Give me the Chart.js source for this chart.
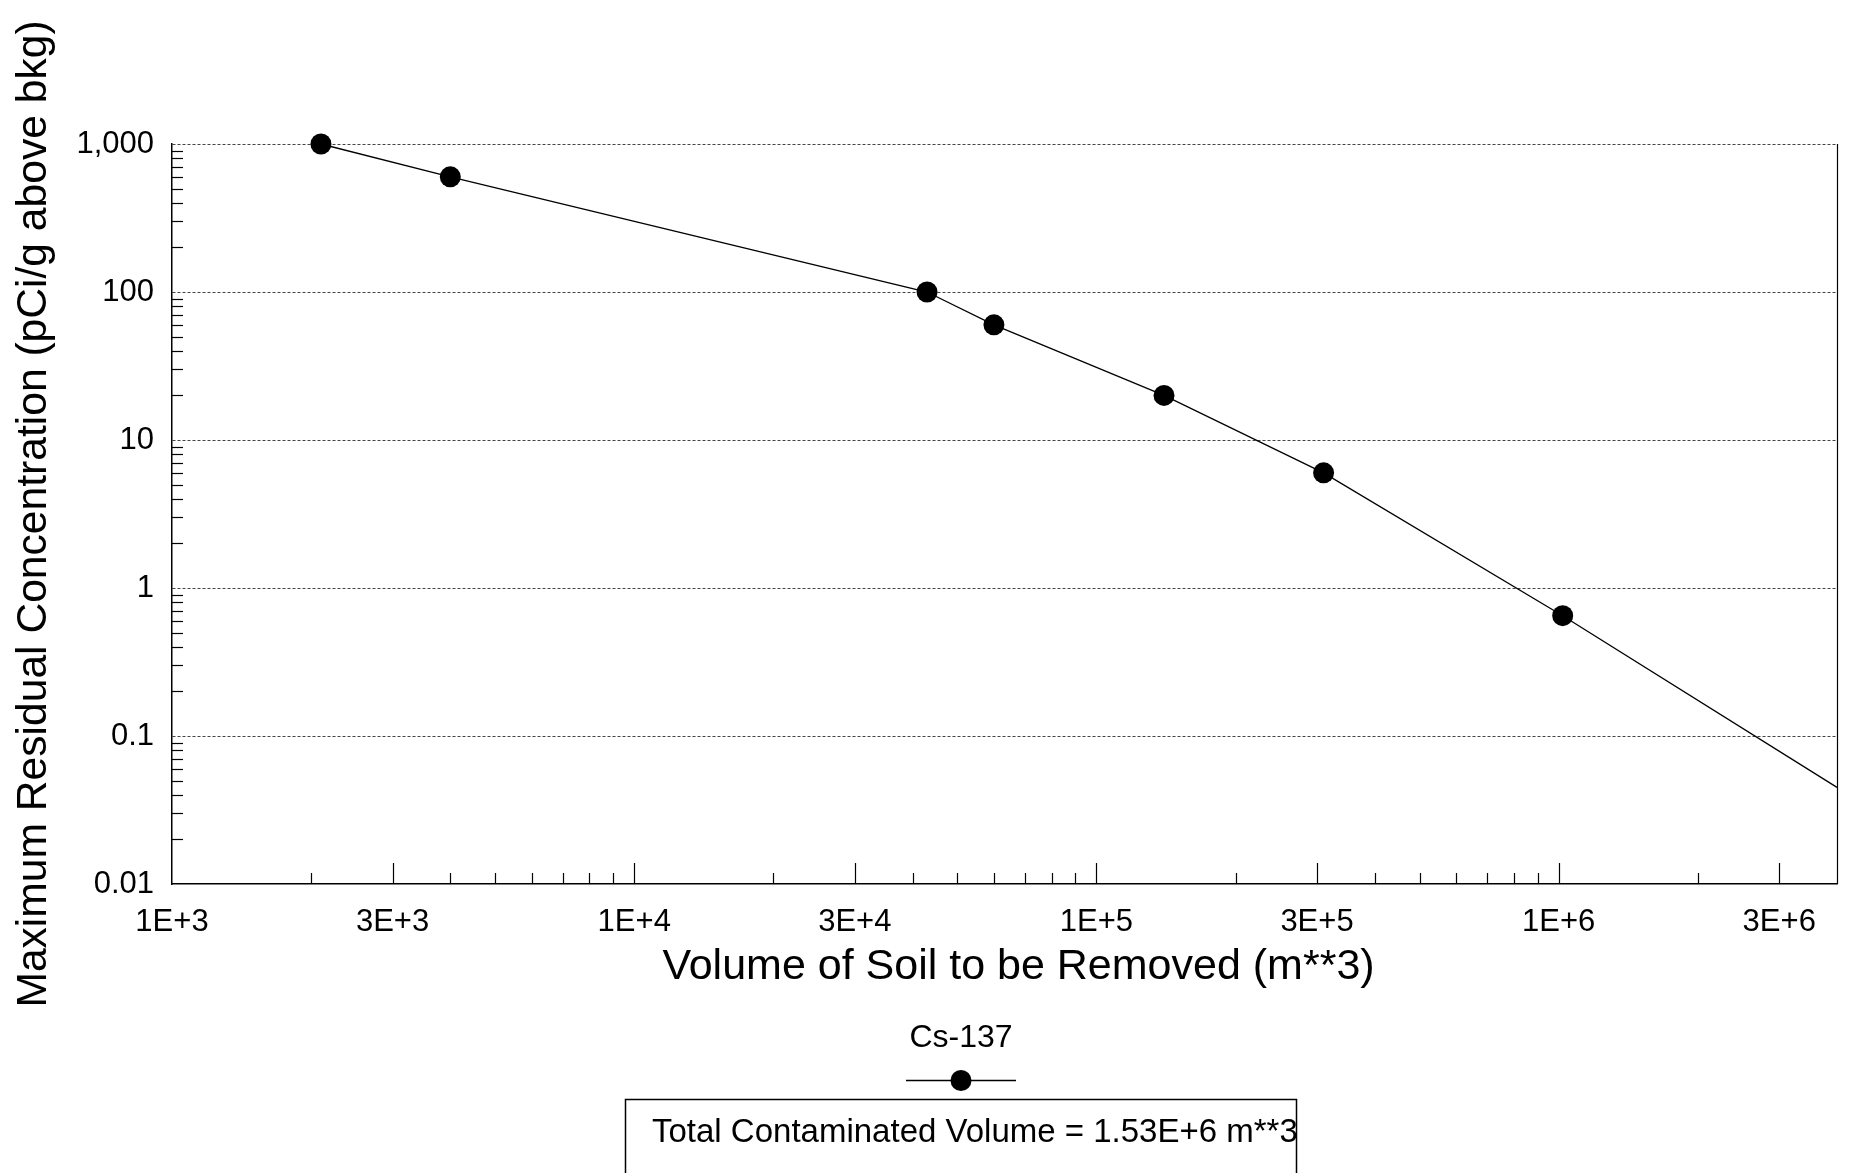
<!DOCTYPE html>
<html><head><meta charset="utf-8">
<script src="https://cdn.jsdelivr.net/npm/chart.js@4/dist/chart.umd.min.js"></script>
<style>html,body{margin:0;padding:0;background:#fff;overflow:hidden}#wrap{width:1849px;height:1173px;position:relative}</style>
</head><body><div id="wrap"><canvas id="c" width="1849" height="1173"></canvas></div>
<script>
// ---- data ----
const volumes = [2.1e3, 4.0e3, 4.3e4, 6.0e4, 1.4e5, 3.1e5, 1.02e6, 4.0e6];
const concentrations = [1000, 600, 100, 60, 20, 6.0, 0.65, 0.045];
const markedPoints = [true, true, true, true, true, true, true, false];
const seriesName = 'Cs-137';
const xTickValues = [1e3, 3e3, 1e4, 3e4, 1e5, 3e5, 1e6, 3e6];
const xTickLabels = ['1E+3', '3E+3', '1E+4', '3E+4', '1E+5', '3E+5', '1E+6', '3E+6'];
const yTickValues = [0.01, 0.1, 1, 10, 100, 1000];
const yTickLabels = ['0.01', '0.1', '1', '10', '100', '1,000'];
const xRange = [1e3, 4e6];
const yRange = [0.01, 1000];
const xTitle = 'Volume of Soil to be Removed (m**3)';
const yTitle = 'Maximum Residual Concentration (pCi/g above bkg)';
const totalVolumeNote = 'Total Contaminated Volume = 1.53E+6 m**3';

const FONT = "'Liberation Sans', Arial, Helvetica, sans-serif";
Chart.defaults.font.family = FONT;
Chart.defaults.color = '#000';

function minorValues(min, max) {
  const out = [];
  for (let d = Math.pow(10, Math.floor(Math.log10(min))); d <= max; d *= 10) {
    for (let m = 1; m <= 9; m++) {
      const v = m * d;
      if (v > min * 1.0001 && v < max * 0.9999) out.push({v, m});
    }
  }
  return out;
}

const extrasPlugin = {
  id: 'extras',
  beforeDatasetsDraw(chart) {
    const {ctx, chartArea: a, scales: {x, y}} = chart;
    ctx.save();
    ctx.strokeStyle = '#000';
    ctx.lineWidth = 1.2;
    // right border
    ctx.beginPath();
    ctx.moveTo(a.right + 0.5, a.top);
    ctx.lineTo(a.right + 0.5, a.bottom);
    ctx.stroke();
    // x ticks (inside, pointing up)
    minorValues(xRange[0], xRange[1]).forEach(({v, m}) => {
      const px = Math.round(x.getPixelForValue(v)) + 0.5;
      const len = (m === 1 || m === 3) ? 21 : 11;
      ctx.beginPath();
      ctx.moveTo(px, a.bottom);
      ctx.lineTo(px, a.bottom - len);
      ctx.stroke();
    });
    // y minor ticks (inside, pointing right)
    minorValues(yRange[0], yRange[1]).forEach(({v, m}) => {
      if (m === 1) return;
      const py = Math.round(y.getPixelForValue(v)) + 0.5;
      ctx.beginPath();
      ctx.moveTo(a.left, py);
      ctx.lineTo(a.left + 11, py);
      ctx.stroke();
    });
    ctx.restore();
  },
  afterDraw(chart) {
    const {ctx, chartArea: a} = chart;
    const ds = chart.data.datasets[0];
    ctx.save();
    ctx.fillStyle = '#000';
    // x axis title
    ctx.font = '43px ' + FONT;
    ctx.textAlign = 'center';
    ctx.textBaseline = 'middle';
    ctx.fillText(xTitle, (a.left + a.right) / 2 + 14, 967);
    // legend
    const cx = 961;
    ctx.font = '32px ' + FONT;
    ctx.fillText(ds.label, cx, 1038);
    ctx.strokeStyle = '#000';
    ctx.lineWidth = ds.borderWidth;
    ctx.beginPath();
    ctx.moveTo(cx - 55, 1080.5);
    ctx.lineTo(cx + 55, 1080.5);
    ctx.stroke();
    ctx.beginPath();
    ctx.arc(cx, 1080.5, 10.5, 0, Math.PI * 2);
    ctx.fill();
    // note box
    const bx = 625, by = 1099, bw = 671, bh = 120;
    ctx.lineWidth = 1.5;
    ctx.strokeRect(bx + 0.5, by + 0.5, bw, bh);
    ctx.beginPath();
    ctx.rect(bx, by, bw, bh);
    ctx.clip();
    ctx.textAlign = 'left';
    ctx.font = '33px ' + FONT;
    ctx.fillText(totalVolumeNote, 652, 1133);
    ctx.restore();
  }
};

new Chart(document.getElementById('c'), {
  type: 'line',
  data: {
    datasets: [{
      label: seriesName,
      data: volumes.map((v, i) => ({x: v, y: concentrations[i]})),
      borderColor: '#000',
      borderWidth: 1.3,
      backgroundColor: '#000',
      pointBackgroundColor: '#000',
      pointBorderWidth: 0,
      pointRadius: c => markedPoints[c.dataIndex] ? 10.5 : 0,
      pointHoverRadius: c => markedPoints[c.dataIndex] ? 10.5 : 0,
      tension: 0,
      clip: false,
      fill: false
    }]
  },
  options: {
    responsive: false,
    animation: false,
    devicePixelRatio: 1,
    events: [],
    layout: {padding: {top: 144, right: 12, left: 0, bottom: 169}},
    plugins: {legend: {display: false}, tooltip: {enabled: false}},
    scales: {
      x: {
        type: 'logarithmic',
        min: xRange[0],
        max: xRange[1],
        afterBuildTicks: s => { s.ticks = xTickValues.map(v => ({value: v, major: true})); },
        afterFit: s => { s.height = 120; },
        ticks: {
          autoSkip: false,
          maxRotation: 0,
          padding: 20,
          font: {size: 31},
          color: '#000',
          callback: (v, i) => xTickLabels[i]
        },
        grid: {display: false, drawTicks: false},
        border: {display: true, color: '#000', width: 1.5},
        title: {display: false, text: xTitle}
      },
      y: {
        type: 'logarithmic',
        min: yRange[0],
        max: yRange[1],
        afterBuildTicks: s => { s.ticks = yTickValues.map(v => ({value: v, major: true})); },
        afterFit: s => { s.width = 172; },
        ticks: {
          autoSkip: false,
          padding: 18,
          font: {size: 31},
          color: '#000',
          callback: (v, i) => yTickLabels[i]
        },
        grid: {
          display: true,
          drawTicks: false,
          lineWidth: 1,
          color: c => (c.tick && c.tick.value === yRange[0]) ? 'rgba(0,0,0,0)' : '#444'
        },
        border: {display: true, color: '#000', width: 1.5, dash: [3, 2]},
        title: {display: true, text: yTitle, font: {size: 42.6}, color: '#000', padding: {top: 9, bottom: 0}}
      }
    }
  },
  plugins: [extrasPlugin]
});
</script>
</body></html>
